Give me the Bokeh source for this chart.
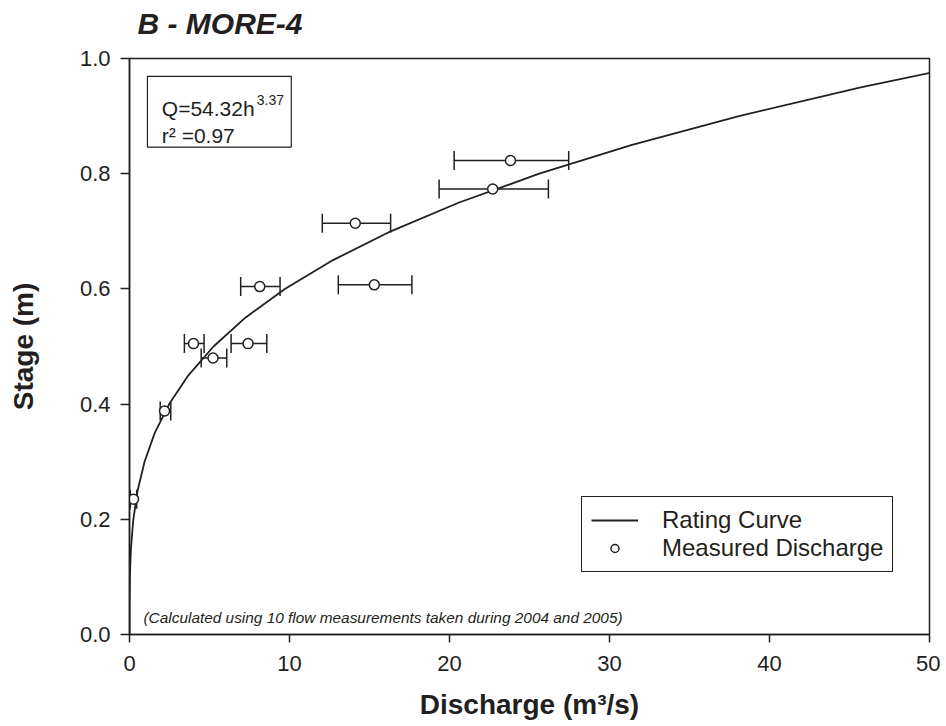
from bokeh.plotting import figure
from bokeh.models import (ColumnDataSource, Whisker, TeeHead, Label, BoxAnnotation,
                          Legend, LegendItem, Range1d, FixedTicker, Title)
from bokeh.embed import file_html
from bokeh.resources import INLINE

# ---- data ----
curve_stage = [0.0, 0.05, 0.10, 0.15, 0.20, 0.25, 0.30, 0.35, 0.40, 0.45, 0.50,
               0.55, 0.60, 0.65, 0.70, 0.75, 0.80, 0.85, 0.90, 0.95, 1.00]
curve_q = [0.0, 0.002, 0.023, 0.091, 0.24, 0.51, 0.94, 1.58, 2.48, 3.68, 5.25,
           7.24, 9.71, 12.72, 16.33, 20.60, 25.61, 31.41, 38.09, 45.70, 54.32]

meas_q = [0.25, 2.19, 4.00, 5.22, 7.41, 8.14, 15.30, 14.11, 22.70, 23.81]
meas_stage = [0.235, 0.388, 0.505, 0.480, 0.505, 0.604, 0.607, 0.714, 0.7735, 0.823]
meas_q_low = [0.05, 1.92, 3.43, 4.48, 6.35, 6.95, 13.05, 12.05, 19.35, 20.29]
meas_q_high = [0.45, 2.58, 4.66, 6.08, 8.58, 9.41, 17.65, 16.32, 26.18, 27.45]

x_ticks = [0, 10, 20, 30, 40, 50]
y_ticks = [0.0, 0.2, 0.4, 0.6, 0.8, 1.0]
y_tick_labels = ["0.0", "0.2", "0.4", "0.6", "0.8", "1.0"]

FONT = "Liberation Sans"
INK = "#231F20"

p = figure(width=940, height=726, x_range=Range1d(0, 50), y_range=Range1d(0, 1),
           output_backend="svg", toolbar_location=None,
           min_border_left=129, min_border_right=11, min_border_top=58, min_border_bottom=92)

p.grid.visible = False
p.outline_line_color = INK
p.outline_line_width = 1.5
p.outline_line_alpha = 1.0
p.background_fill_color = "white"
p.border_fill_color = "white"

# title
p.title.text = "B - MORE-4"
p.title.text_font = FONT
p.title.text_font_size = "30px"
p.title.text_font_style = "bold italic"
p.title.text_color = INK
p.title.text_line_height = 1.0
p.title.align = "left"
p.title.vertical_align = "bottom"
p.title.offset = 8
p.title.standoff = 0
# blank spacer between the title and the frame
p.add_layout(Title(text=" ", text_font=FONT, text_font_size="15px", standoff=0,
                   text_line_height=1.0), "above")

# axes
for ax in (p.xaxis[0], p.yaxis[0]):
    ax.axis_line_color = INK
    ax.axis_line_width = 1.5
    ax.major_tick_line_color = INK
    ax.major_tick_line_width = 1.5
    ax.major_tick_in = 0
    ax.minor_tick_line_color = None
    ax.major_label_text_font = FONT
    ax.major_label_text_font_size = "22px"
    ax.major_label_text_color = INK
    ax.major_label_text_line_height = 1.0
    ax.axis_label_text_font = FONT
    ax.axis_label_text_font_size = "28px"
    ax.axis_label_text_font_style = "bold"
    ax.axis_label_text_color = INK
    ax.axis_label_text_line_height = 1.0
    ax.major_label_standoff = 10

p.xaxis.ticker = FixedTicker(ticks=x_ticks)
p.yaxis.ticker = FixedTicker(ticks=y_ticks)
p.yaxis.major_label_overrides = {t: l for t, l in zip(y_ticks, y_tick_labels)}
p.xaxis.major_tick_out = 8
p.yaxis.major_tick_out = 9
p.xaxis.axis_label = "Discharge (m³/s)"
p.yaxis.axis_label = "Stage (m)"
p.xaxis.major_label_standoff = 13
p.xaxis.axis_label_standoff = 15
p.yaxis.axis_label_standoff = 38

# rating curve
curve_src = ColumnDataSource(dict(q=curve_q, h=curve_stage))
line_r = p.line("q", "h", source=curve_src, line_color=INK, line_width=1.8)

# error bars
meas_src = ColumnDataSource(dict(q=meas_q, h=meas_stage, lo=meas_q_low, hi=meas_q_high))
wh = Whisker(source=meas_src, base="h", lower="lo", upper="hi", dimension="width",
             line_color=INK, line_width=1.5,
             lower_head=TeeHead(size=19, line_color=INK, line_width=1.5),
             upper_head=TeeHead(size=19, line_color=INK, line_width=1.5))
wh.level = "underlay"
p.add_layout(wh)

pts_r = p.scatter("q", "h", source=meas_src, size=10, marker="circle",
                  fill_color="white", line_color=INK, line_width=1.5)

# equation box
eq_box = BoxAnnotation(left=1.12, right=10.11, top=0.969, bottom=0.846,
                       fill_color="white", fill_alpha=1.0, line_color=INK,
                       line_alpha=1.0, line_width=1.2)
p.add_layout(eq_box)
p.add_layout(Label(x=2.02, y=0.9128, text="Q=54.32h", text_font=FONT, text_font_size="21px",
                   text_color=INK, text_baseline="alphabetic"))
p.add_layout(Label(x=7.95, y=0.928, text="3.37", text_font=FONT, text_font_size="14px",
                   text_color=INK, text_baseline="alphabetic"))
p.add_layout(Label(x=2.02, y=0.866, text="r² =0.97", text_font=FONT, text_font_size="21px",
                   text_color=INK, text_baseline="alphabetic"))

# footnote
p.add_layout(Label(x=0.874, y=0.030,
                   text="(Calculated using 10 flow measurements taken during 2004 and 2005)",
                   text_font=FONT, text_font_size="15.4px",
                   text_font_style="italic", text_color=INK, text_baseline="alphabetic"))

# legend
legend = Legend(items=[LegendItem(label="Rating Curve", renderers=[line_r]),
                       LegendItem(label="Measured Discharge", renderers=[pts_r])],
                location=(452, 62))
legend.label_text_font = FONT
legend.label_text_font_size = "24px"
legend.label_text_color = INK
legend.label_text_line_height = 1.0
legend.glyph_width = 47
legend.glyph_height = 20
legend.label_height = 20
legend.label_standoff = 24
legend.padding = 9
legend.spacing = 0
legend.margin = 0
legend.border_line_color = INK
legend.border_line_width = 1.5
legend.border_line_alpha = 1.0
legend.background_fill_alpha = 1.0
p.add_layout(legend)

open("out.html", "w").write(file_html(p, INLINE))
